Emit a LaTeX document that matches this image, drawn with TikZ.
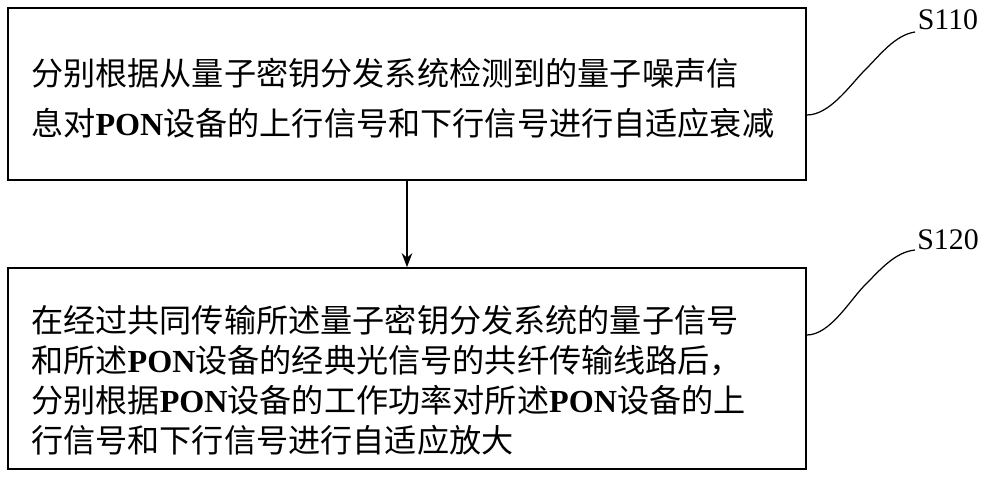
\documentclass[tikz,border=0pt]{standalone}
\usepackage{fontspec}
\setmainfont{Liberation Serif}
\newfontfamily\cjk{Noto Sans CJK SC}
\usetikzlibrary{arrows.meta}
\newcommand{\pon}{{\rmfamily\bfseries PON}}
\begin{document}
\begin{tikzpicture}[x=0.02cm,y=-0.02cm,
    stepbox/.style={draw, line width=0.9pt, inner sep=0pt},
    steptext/.style={anchor=west, align=left, font=\cjk\fontsize{18.3}{22.7}\selectfont},
    steplabel/.style={font=\fontsize{17}{20}\selectfont},
    arrow/.style={-{Stealth[length=8pt,width=6pt]}, line width=0.9pt}
]
\useasboundingbox (0,0) rectangle (1000,482);

% boxes
\node (b1) [stepbox, minimum width=798*0.02cm, minimum height=172*0.02cm] at (407,94) {};
\node (b2) [stepbox, minimum width=798*0.02cm, minimum height=201*0.02cm] at (407,368.5) {};

% texts
\node (t1) [steptext, font=\cjk\fontsize{18.3}{28.3}\selectfont] at (25,98) {分别根据从量子密钥分发系统检测到的量子噪声信\\息对\pon 设备的上行信号和下行信号进行自适应衰减};
\node (t2) [steptext] at (25,380) {在经过共同传输所述量子密钥分发系统的量子信号\\和所述\pon 设备的经典光信号的共纤传输线路后，\\分别根据\pon 设备的工作功率对所述\pon 设备的上\\行信号和下行信号进行自适应放大};

% labels
\node (l1) [steplabel] at (948,20) {S110};
\node (l2) [steplabel] at (948,240) {S120};
\draw [line width=0.7pt] (b1.east |- 0,115) .. controls (830,115) and (850,85) .. (865,70)
      .. controls (880,55) and (895,35) .. (915,32);
\draw [line width=0.7pt] (b2.east |- 0,335) .. controls (830,335) and (850,300) .. (865,285)
      .. controls (880,270) and (895,252) .. (915,250);

% arrow
\draw [arrow] (b1.south) -- (b2.north);
\end{tikzpicture}
\end{document}
